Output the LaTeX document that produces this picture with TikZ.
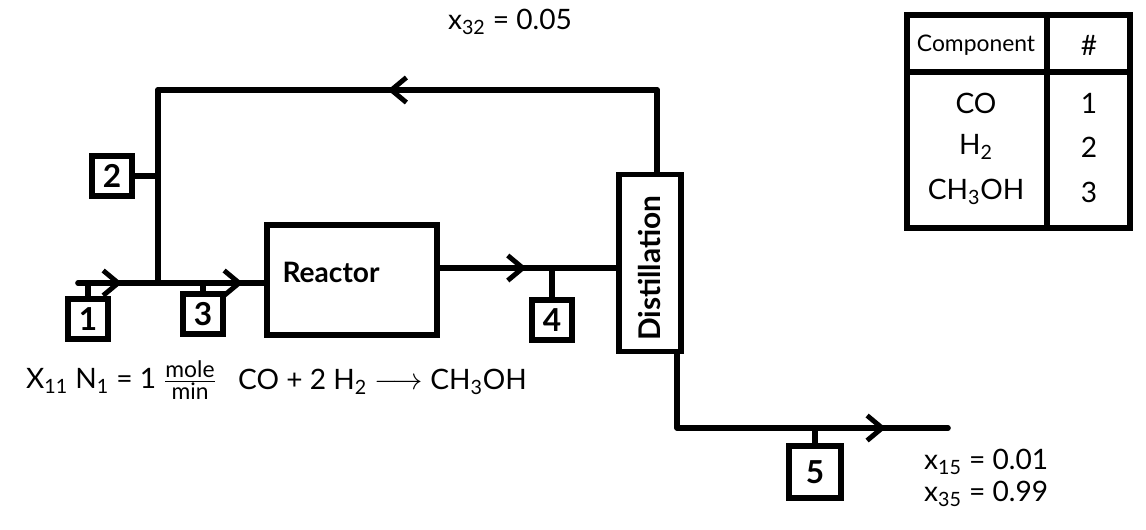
\documentclass[tikz,border=0pt]{standalone}
\usepackage{amsmath}
\usepackage{fontspec}
\setmainfont{Lato}
\usepackage{tikz}
\usetikzlibrary{positioning,arrows.meta,decorations.markings,calc}

\begin{document}
\begin{tikzpicture}[
  x=0.02cm, y=-0.02cm,
  every node/.style={font=\fontsize{16}{18}\selectfont},
  flow/.style={line width=3.2pt, line cap=round, line join=round},
  midarrow/.style={postaction={decorate}, decoration={markings,
    mark=at position #1 with {\arrow{Straight Barb[length=3mm, width=5mm, line width=2.8pt]}}}},
  unitbox/.style={draw, line width=3.2pt, inner sep=0pt},
  tag/.style={draw, line width=3.2pt, minimum size=0.8cm, inner sep=0pt, font=\fontsize{18}{18}\bfseries\selectfont},
  tabline/.style={line width=3.2pt, line cap=round}
]
\useasboundingbox (0,0) rectangle (1146,529);

% units
\node[unitbox, minimum width=3.4cm, minimum height=2.2cm] (reactor) at (352,280) {};
\node[font=\fontsize{16}{18}\bfseries\selectfont] (reactorlabel) at (331,272) {Reactor};
\node[unitbox, minimum width=1.24cm, minimum height=3.54cm] (dist) at (650,263) {};
\node[rotate=90, font=\fontsize{17}{18}\bfseries\selectfont] (distlabel) at ([yshift=-3pt]dist.center) {Distillation};

% stream coordinates
\coordinate (feed) at (78,283);
\coordinate (mix) at (158,283);
\coordinate (s4) at (437,268);
\coordinate (rtop) at (657,90);
\coordinate (bot) at (677,428);
\coordinate (prod) at (948,428);

% streams
\draw[flow, midarrow=0.55] (feed) -- (mix);
\draw[flow, midarrow=0.8] (mix) -- (mix -| reactor.west);
\draw[flow, midarrow=0.5] (s4) -- (s4 -| dist.west);
\draw[flow] (rtop |- dist.north) -- (rtop);
\draw[flow, midarrow=0.54] (rtop) -- (rtop -| mix);
\draw[flow] (rtop -| mix) -- (mix);
\draw[flow, midarrow=0.82] (bot |- dist.south) -- (bot) -- (prod);

% stream tags
\node[tag] (t1) at (88,319) {1};
\node[tag] (t2) at (112,176) {2};
\node[tag] (t3) at (203,314) {3};
\node[tag] (t4) at (552,320) {4};
\node[tag, minimum size=1.05cm] (t5) at (815,472) {5};
\draw[flow] (t1.north) -- (t1 |- feed);
\draw[flow] (t2.east) -- (t2 -| mix);
\draw[flow] (t3.north) -- (t3 |- mix);
\draw[flow] (t4.north) -- (t4 |- s4);
\draw[flow] (t5.north) -- (t5 |- prod);

% labels
\node (x32) at (510,22) {x\textsubscript{32} = 0.05};
\node[anchor=west] (feedspec) at (20,380) {X\textsubscript{11} N\textsubscript{1} = 1 $\frac{\text{\fontsize{13}{14}\selectfont mole}}{\text{\fontsize{13}{14}\selectfont min}}$};
\node[anchor=west] (rxn) at (232,382) {CO + 2 H\textsubscript{2} $\longrightarrow$ CH\textsubscript{3}OH};
\node[anchor=west] (x15) at (918,462) {x\textsubscript{15} = 0.01};
\node[anchor=west] (x35) at (918,494) {x\textsubscript{35} = 0.99};

% component table
\draw[tabline] (907,15) rectangle (1130,228);
\draw[tabline] (1047,15) -- (1047,228);
\draw[tabline] (907,72) -- (1130,72);
\node[font=\fontsize{13}{14}\selectfont] (hcomp) at (976,45) {Component};
\node (hnum) at (1089,45) {\#};
\node (c1) at (976,103) {CO};
\node (n1) at (1089,103) {1};
\node (c2) at (976,147) {H\textsubscript{2}};
\node (n2) at (1089,147) {2};
\node (c3) at (976,192) {CH\textsubscript{3}OH};
\node (n3) at (1089,192) {3};
\end{tikzpicture}
\end{document}
